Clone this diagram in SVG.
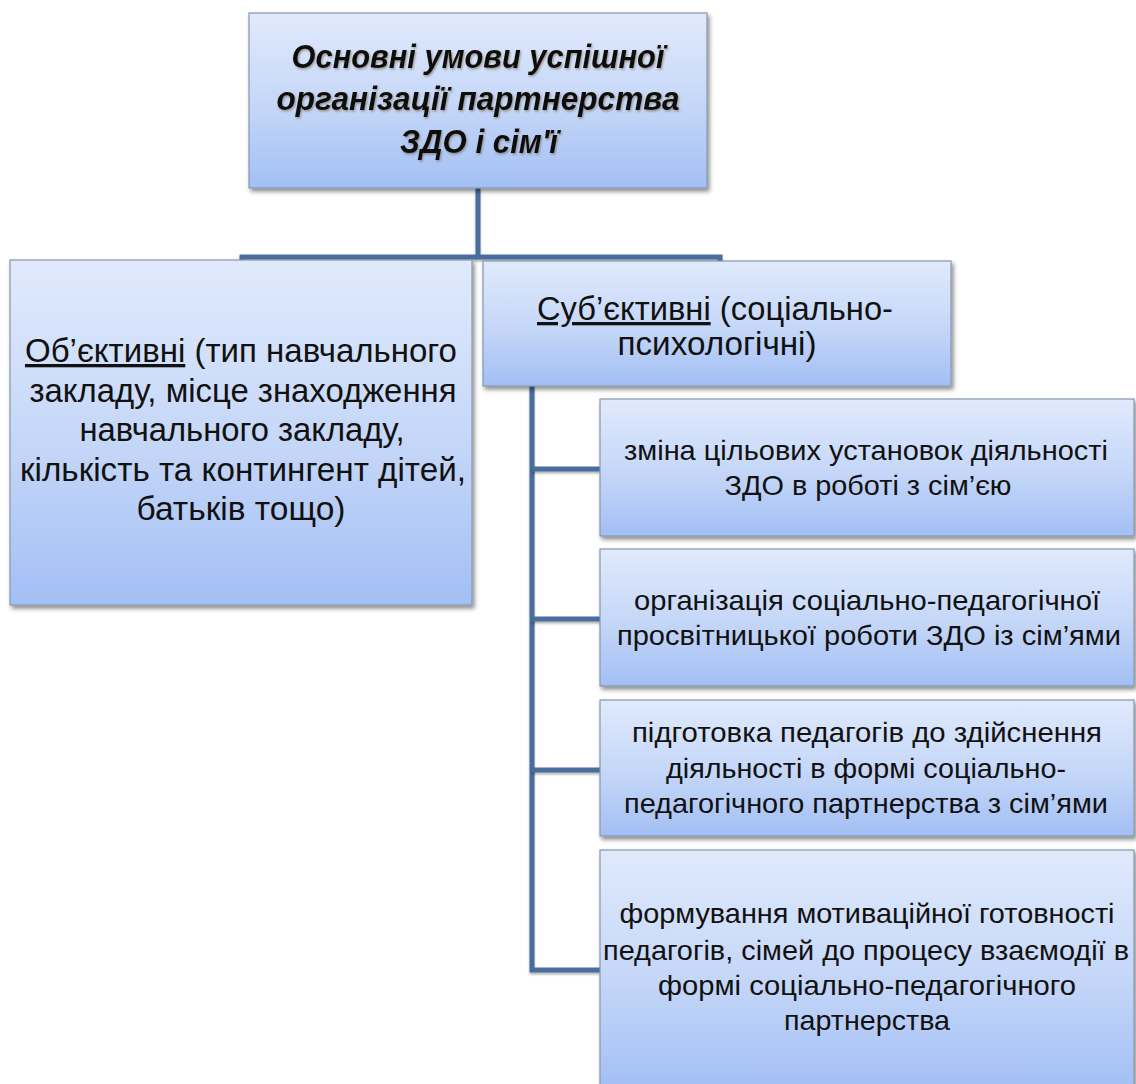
<svg xmlns="http://www.w3.org/2000/svg" width="1136" height="1084" viewBox="0 0 1136 1084">
<defs>
<linearGradient id="boxGrad" x1="0" y1="0" x2="0" y2="1">
<stop offset="0" stop-color="#e0eafc"/>
<stop offset="0.55" stop-color="#c4d6f8"/>
<stop offset="1" stop-color="#a2bff4"/>
</linearGradient>
<filter id="shadow" x="-5%" y="-5%" width="112%" height="115%">
<feDropShadow dx="2" dy="3" stdDeviation="2" flood-color="#000" flood-opacity="0.45"/>
</filter>
<filter id="lineShadow" filterUnits="userSpaceOnUse" x="0" y="0" width="1136" height="1084">
<feDropShadow dx="0" dy="2" stdDeviation="1" flood-color="#000" flood-opacity="0.3"/>
</filter>
<filter id="textShadow" x="-5%" y="-20%" width="110%" height="140%">
<feDropShadow dx="1" dy="1.5" stdDeviation="1" flood-color="#6b5a3a" flood-opacity="0.55"/>
</filter>
</defs>
<style>
.box{fill:url(#boxGrad);stroke:#8796ad;stroke-width:1.2;filter:url(#shadow);}
.conn{fill:none;stroke:#4a6d9c;stroke-width:5;stroke-linecap:butt;stroke-linejoin:miter;filter:url(#lineShadow);}
.t{font-family:"Liberation Sans","Open Sans",Arial,sans-serif;fill:#111;text-anchor:middle;}
.big{font-size:33px;}
.small{font-size:28px;}
.title{font-size:33px;font-weight:bold;font-style:italic;filter:url(#textShadow);}
</style>
<rect width="1136" height="1084" fill="#ffffff"/>

<g id="connectors">
<path class="conn" d="M478,188 V257"/>
<path class="conn" d="M242,261 V257 H720 V261"/>
<path class="conn" d="M532,386 V970 H600"/>
<path class="conn" d="M532,469 H600"/>
<path class="conn" d="M532,619 H600"/>
<path class="conn" d="M532,770 H600"/>
</g>

<g id="node-root">
<rect class="box" x="249" y="13" width="458" height="175"/>
<text class="t title" x="478" y="68" textLength="373" lengthAdjust="spacingAndGlyphs">Основні умови успішної</text>
<text class="t title" x="478" y="110" textLength="403" lengthAdjust="spacingAndGlyphs">організації партнерства</text>
<text class="t title" x="479" y="153" textLength="158" lengthAdjust="spacingAndGlyphs">ЗДО і сім'ї</text>
</g>

<g id="node-objective">
<rect class="box" x="10" y="260" width="462" height="345"/>
<text class="t big" x="241" y="362" textLength="432" lengthAdjust="spacingAndGlyphs"><tspan text-decoration="underline">Об’єктивні</tspan> (тип навчального</text>
<text class="t big" x="243" y="402" textLength="427" lengthAdjust="spacingAndGlyphs">закладу, місце знаходження</text>
<text class="t big" x="242" y="441" textLength="325" lengthAdjust="spacingAndGlyphs">навчального закладу,</text>
<text class="t big" x="243" y="481" textLength="446" lengthAdjust="spacingAndGlyphs">кількість та контингент дітей,</text>
<text class="t big" x="241" y="520" textLength="209" lengthAdjust="spacingAndGlyphs">батьків тощо)</text>
</g>

<g id="node-subjective">
<rect class="box" x="483" y="261" width="468" height="125"/>
<text class="t big" x="715" y="320" textLength="356" lengthAdjust="spacingAndGlyphs"><tspan text-decoration="underline">Суб’єктивні</tspan> (соціально-</text>
<text class="t big" x="717" y="355" textLength="199" lengthAdjust="spacingAndGlyphs">психологічні)</text>
</g>

<g id="node-sub1">
<rect class="box" x="600" y="399" width="534" height="137"/>
<text class="t small" x="866" y="460" textLength="484" lengthAdjust="spacingAndGlyphs">зміна цільових установок діяльності</text>
<text class="t small" x="868" y="495" textLength="287" lengthAdjust="spacingAndGlyphs">ЗДО в роботі з сім’єю</text>
</g>

<g id="node-sub2">
<rect class="box" x="600" y="549" width="534" height="137"/>
<text class="t small" x="867" y="610" textLength="466" lengthAdjust="spacingAndGlyphs">організація соціально-педагогічної</text>
<text class="t small" x="869" y="645" textLength="504" lengthAdjust="spacingAndGlyphs">просвітницької роботи ЗДО із сім’ями</text>
</g>

<g id="node-sub3">
<rect class="box" x="600" y="700" width="534" height="136"/>
<text class="t small" x="867" y="742" textLength="470" lengthAdjust="spacingAndGlyphs">підготовка педагогів до здійснення</text>
<text class="t small" x="866" y="778" textLength="400" lengthAdjust="spacingAndGlyphs">діяльності в формі соціально-</text>
<text class="t small" x="866" y="813" textLength="484" lengthAdjust="spacingAndGlyphs">педагогічного партнерства з сім’ями</text>
</g>

<g id="node-sub4">
<rect class="box" x="600" y="850" width="534" height="240"/>
<text class="t small" x="867" y="923" textLength="495" lengthAdjust="spacingAndGlyphs">формування мотиваційної готовності</text>
<text class="t small" x="866" y="960" textLength="526" lengthAdjust="spacingAndGlyphs">педагогів, сімей до процесу взаємодії в</text>
<text class="t small" x="867" y="995" textLength="418" lengthAdjust="spacingAndGlyphs">формі соціально-педагогічного</text>
<text class="t small" x="867" y="1030" textLength="166" lengthAdjust="spacingAndGlyphs">партнерства</text>
</g>
</svg>
